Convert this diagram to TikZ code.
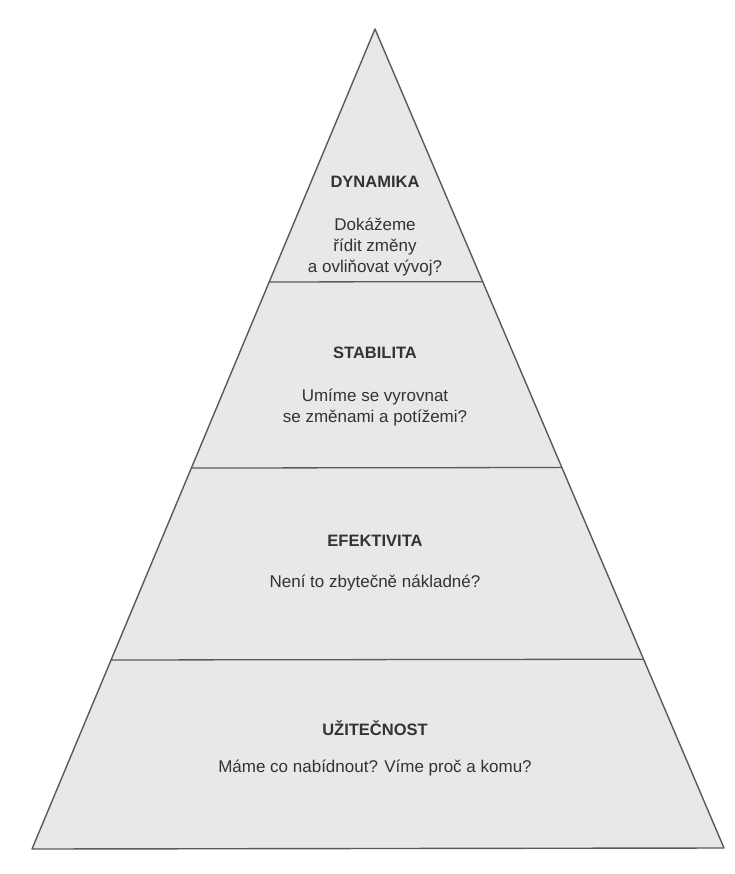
\documentclass[tikz,border=0pt]{standalone}
\usepackage{fontspec}
\setmainfont{Liberation Sans}
\usetikzlibrary{calc}
\definecolor{pyrfill}{HTML}{E8E8E8}
\definecolor{pyrline}{HTML}{5A5A5A}
\definecolor{inktext}{HTML}{333333}
\tikzset{
  tier/.style={draw=pyrline, line width=1.3pt},
  heading/.style={font=\fontsize{16.5}{20}\selectfont\bfseries, text=inktext, inner sep=0pt},
  question/.style={font=\fontsize{17}{21}\selectfont, text=inktext, align=center, inner sep=0pt},
}
\begin{document}
\begin{tikzpicture}[x=1pt,y=-1pt]
  \useasboundingbox (0,0) rectangle (735,874);
  \fill[white] (0,0) rectangle (735,874);
  % pyramid outline
  \coordinate (apex) at (375,29);
  \coordinate (bl) at (32,849);
  \coordinate (br) at (724,848);
  \filldraw[fill=pyrfill, draw=pyrline, line width=1.4pt, line join=round] (apex) -- (bl) -- (br) -- cycle;
  % tier boundaries
  \foreach \t/\n in {0.3085/a, 0.5354/b, 0.7695/c} {
    \coordinate (L\n) at ($(apex)!\t!(bl)$);
    \coordinate (R\n) at ($(apex)!\t!(br)$);
  }
  \draw[tier] (La) -- (Ra);
  \draw[tier] (Lb) -- (Rb);
  \draw[tier] (Lc) -- (Rc);
  % labels
  \node[heading] (dyn) at (375,182) {DYNAMIKA};
  \node[question] (dynq) at (375,247) {Dokážeme\\řídit změny\\a ovliňovat vývoj?};
  \node[heading] (stab) at (375,353) {STABILITA};
  \node[question] (stabq) at (375,408) {Umíme se vyrovnat\\se změnami a potížemi?};
  \node[heading] (efek) at (375,541) {EFEKTIVITA};
  \node[question] (efekq) at (375,583) {Není to zbytečně nákladné?};
  \node[heading] (uzit) at (375,728) {UŽITEČNOST};
  \node[question] (uzitq) at (375,768) {Máme co nabídnout? Víme proč a komu?};
\end{tikzpicture}
\end{document}
